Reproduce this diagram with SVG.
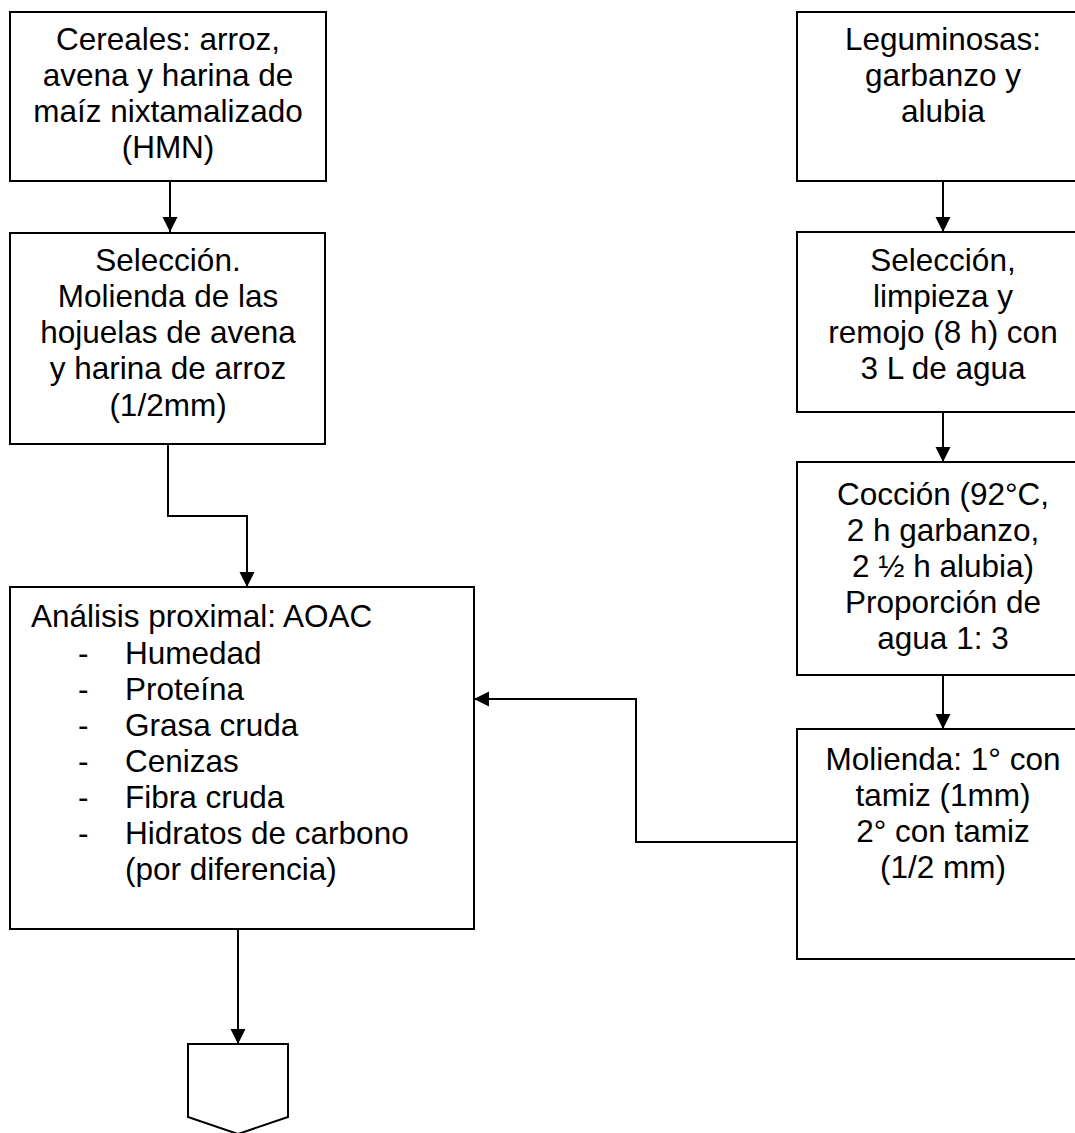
<svg xmlns="http://www.w3.org/2000/svg" width="1075" height="1133" viewBox="0 0 1075 1133">
<style>
.box{fill:#fff;stroke:#000;stroke-width:2}
.t{font-family:"Liberation Sans",Arial,sans-serif;font-size:31.5px;fill:#000}
.c{text-anchor:middle}
.ln{fill:none;stroke:#000;stroke-width:2}
</style>
<defs>
<marker id="ah" markerUnits="userSpaceOnUse" markerWidth="16" markerHeight="16" viewBox="0 0 16 16" refX="15" refY="8" orient="auto">
<path d="M0,0.5 L15,8 L0,15.5 Z" fill="#000"/>
</marker>
</defs>
<rect width="1075" height="1133" fill="#fff"/>
<g id="connectors">
<path class="ln" d="M170,181 V232" marker-end="url(#ah)"/>
<path class="ln" d="M168,444 V516 H247 V587" marker-end="url(#ah)"/>
<path class="ln" d="M238,929 V1044" marker-end="url(#ah)"/>
<path class="ln" d="M943,181 V232" marker-end="url(#ah)"/>
<path class="ln" d="M943,412 V462" marker-end="url(#ah)"/>
<path class="ln" d="M943,675 V729" marker-end="url(#ah)"/>
<path class="ln" d="M798,842 H636 V699 H474" marker-end="url(#ah)"/>
</g>
<g id="cereales">
<rect class="box" x="10" y="12" width="316" height="169"/>
<text class="t c" x="168" y="50">Cereales: arroz,</text>
<text class="t c" x="168" y="86">avena y harina de</text>
<text class="t c" x="168" y="122">maíz nixtamalizado</text>
<text class="t c" x="168" y="158">(HMN)</text>
</g>
<g id="seleccion-cereales">
<rect class="box" x="10" y="233" width="315" height="211"/>
<text class="t c" x="168" y="271">Selección.</text>
<text class="t c" x="168" y="307">Molienda de las</text>
<text class="t c" x="168" y="343">hojuelas de avena</text>
<text class="t c" x="168" y="379">y harina de arroz</text>
<text class="t c" x="168" y="416">(1/2mm)</text>
</g>
<g id="analisis">
<rect class="box" x="10" y="587" width="464" height="342"/>
<text class="t" x="31" y="627">Análisis proximal: AOAC</text>
<text class="t" x="78" y="664">-</text><text class="t" x="125" y="664">Humedad</text>
<text class="t" x="78" y="700">-</text><text class="t" x="125" y="700">Proteína</text>
<text class="t" x="78" y="736">-</text><text class="t" x="125" y="736">Grasa cruda</text>
<text class="t" x="78" y="772">-</text><text class="t" x="125" y="772">Cenizas</text>
<text class="t" x="78" y="808">-</text><text class="t" x="125" y="808">Fibra cruda</text>
<text class="t" x="78" y="844">-</text><text class="t" x="125" y="844">Hidratos de carbono</text>
<text class="t" x="125" y="880">(por diferencia)</text>
</g>
<g id="conector-pagina">
<path class="box" d="M188,1044 H288 V1117 L238,1134 L188,1117 Z"/>
</g>
<g id="leguminosas">
<rect class="box" x="797" y="12" width="293" height="169"/>
<text class="t c" x="943" y="50">Leguminosas:</text>
<text class="t c" x="943" y="86">garbanzo y</text>
<text class="t c" x="943" y="122">alubia</text>
</g>
<g id="seleccion-leguminosas">
<rect class="box" x="797" y="232" width="293" height="180"/>
<text class="t c" x="943" y="271">Selección,</text>
<text class="t c" x="943" y="307">limpieza y</text>
<text class="t c" x="943" y="343">remojo (8 h) con</text>
<text class="t c" x="943" y="379">3 L de agua</text>
</g>
<g id="coccion">
<rect class="box" x="797" y="462" width="293" height="213"/>
<text class="t c" x="943" y="505">Cocción (92°C,</text>
<text class="t c" x="943" y="541">2 h garbanzo,</text>
<text class="t c" x="943" y="577">2 ½ h alubia)</text>
<text class="t c" x="943" y="613">Proporción de</text>
<text class="t c" x="943" y="649">agua 1: 3</text>
</g>
<g id="molienda">
<rect class="box" x="797" y="729" width="293" height="230"/>
<text class="t c" x="943" y="770">Molienda: 1° con</text>
<text class="t c" x="943" y="806">tamiz (1mm)</text>
<text class="t c" x="943" y="842">2° con tamiz</text>
<text class="t c" x="943" y="878">(1/2 mm)</text>
</g>
</svg>
